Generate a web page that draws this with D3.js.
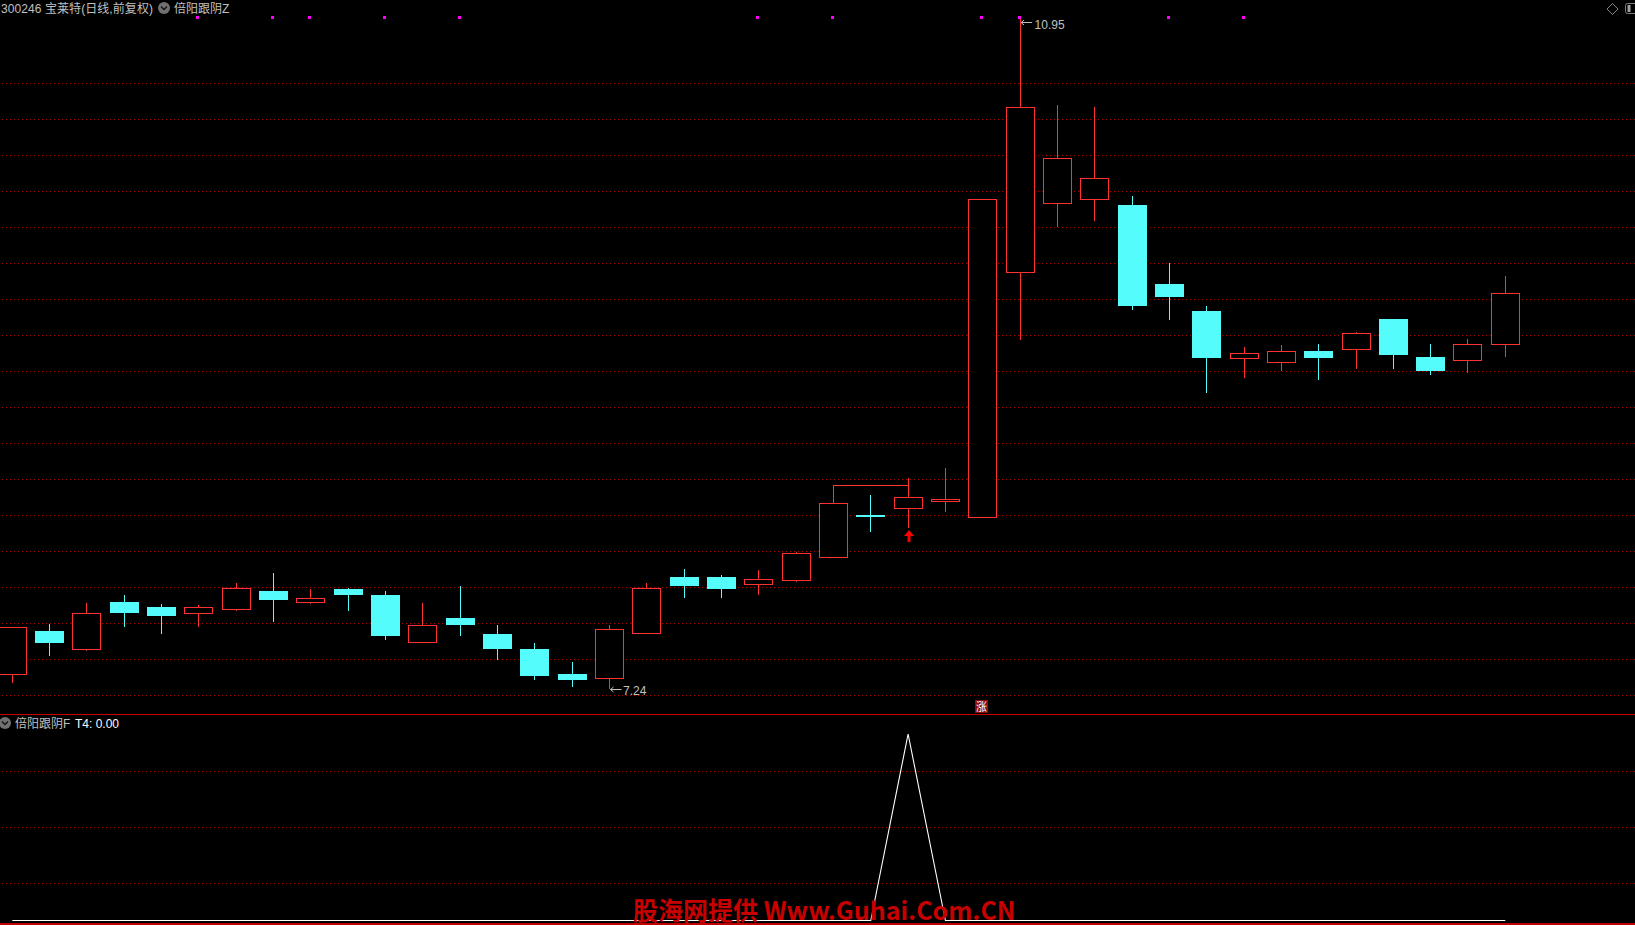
<!DOCTYPE html>
<html><head><meta charset="utf-8">
<script src="https://cdn.jsdelivr.net/npm/d3@7/dist/d3.min.js"></script>
<style>html,body{margin:0;padding:0;background:#000;overflow:hidden}svg{display:block}
text{font-family:"Liberation Sans","Noto Sans CJK SC",sans-serif}
text.wm{font-family:"Noto Sans CJK SC","Noto Sans",sans-serif}</style></head><body>
<svg id="c" width="1635" height="925"></svg>
<script>
const opens=[7.319,7.561,7.457,7.721,7.693,7.656,7.678,7.782,7.717,7.793,7.760,7.496,7.633,7.544,7.461,7.323,7.297,7.548,7.859,7.859,7.817,7.839,7.966,8.202,8.237,8.276,8.187,9.544,9.923,9.945,9.916,9.479,9.330,9.066,9.044,9.109,9.116,9.286,9.076,9.055,9.144];
const closes=[7.581,7.494,7.659,7.660,7.644,7.692,7.797,7.732,7.741,7.760,7.533,7.592,7.594,7.461,7.312,7.290,7.570,7.797,7.809,7.793,7.847,7.990,8.267,8.191,8.300,8.287,9.948,10.456,10.174,10.064,9.358,9.407,9.070,9.096,9.107,9.070,9.207,9.087,8.998,9.146,9.428];
const highs=[7.581,7.599,7.716,7.760,7.710,7.704,7.826,7.881,7.795,7.798,7.782,7.716,7.809,7.594,7.494,7.389,7.594,7.826,7.903,7.870,7.898,7.997,8.366,8.313,8.407,8.462,9.948,10.95,10.469,10.458,9.966,9.595,9.358,9.131,9.142,9.148,9.214,9.286,9.148,9.175,9.524];
const lows=[7.273,7.422,7.450,7.583,7.544,7.583,7.671,7.610,7.710,7.671,7.511,7.496,7.533,7.400,7.290,7.251,7.24,7.548,7.743,7.743,7.760,7.832,7.966,8.108,8.130,8.219,8.187,9.170,9.794,9.828,9.336,9.280,8.877,8.960,8.998,8.949,9.009,9.009,8.976,8.987,9.076];
const t4=[0,0,0,0,0,0,0,0,0,0,0,0,0,0,0,0,0,0,0,0,0,0,0,0,1,0,0,0,0,0,0,0,0,0,0,0,0,0,0,0,0];
const signalBars=[5,7,8,10,12,20,22,26,27,31,33];
const arrowBar=24, zhangBar=26;
const connector={from:22,to:24};
const gridPrices=d3.range(18).map(i=>7.2013+i*0.19936);
const subGrid=[0.2,0.5,0.8];
const titleCode="300246 宝莱特(日线,前复权)", titleMain="倍阳跟阴Z", titleSub="倍阳跟阴F", t4Label="T4: 0.00";
const watermark="股海网提供 Www.Guhai.Com.CN";
const hi={bar:27,label:"10.95",v:10.95}, lo={bar:16,label:"7.24",v:7.24};

const RED="#ff3232",CYAN="#54fcfc",GRID="#b00000",GREY="#c0c0c0";
const svg=d3.select("#c");
svg.append("rect").attr("width",1635).attr("height",925).attr("fill","#000");
const x=d3.scaleLinear().domain([0,40]).range([12.3,1505.3]);
const y=d3.scaleLinear().domain([7.24,10.95]).range([689,18]);
const ys=d3.scaleLinear().domain([0,1]).range([920.5,734]);
const px=v=>Math.floor(v)+.5;
const crisp=svg.append("g").attr("shape-rendering","crispEdges");

// grid
crisp.selectAll(".g").data(gridPrices).join("line").attr("x1",2).attr("x2",1635)
 .attr("y1",d=>px(y(d))).attr("y2",d=>px(y(d))).attr("stroke",GRID).attr("stroke-dasharray","1 3");
crisp.selectAll(".gs").data(subGrid).join("line").attr("x1",2).attr("x2",1635)
 .attr("y1",d=>px(ys(d))).attr("y2",d=>px(ys(d))).attr("stroke",GRID).attr("stroke-dasharray","1 3");
// separators
crisp.append("line").attr("x1",0).attr("x2",1635).attr("y1",714.5).attr("y2",714.5).attr("stroke","#c80000");
crisp.append("rect").attr("x",0).attr("y",923).attr("width",1635).attr("height",2).attr("fill","#c00000");

// candles
const bars=d3.range(opens.length).map(i=>({i,o:opens[i],c:closes[i],h:highs[i],l:lows[i],up:closes[i]>=opens[i]}));
const gc=crisp.selectAll(".c").data(bars).join("g");
gc.each(function(d){
  const g=d3.select(this), X=px(x(d.i)), top=y(Math.max(d.o,d.c)), bot=y(Math.min(d.o,d.c));
  const col=d.up?RED:CYAN;
  if(d.up){
    g.append("line").attr("x1",X).attr("x2",X).attr("y1",y(d.h)).attr("y2",top).attr("stroke",col);
    g.append("line").attr("x1",X).attr("x2",X).attr("y1",bot).attr("y2",y(d.l)).attr("stroke",col);
    g.append("rect").attr("x",X-14).attr("y",px(top)).attr("width",28).attr("height",Math.max(1,px(bot)-px(top)))
      .attr("fill","#000").attr("stroke",col);
  }else{
    g.append("line").attr("x1",X).attr("x2",X).attr("y1",y(d.h)).attr("y2",y(d.l)).attr("stroke",col);
    g.append("rect").attr("x",X-14.5).attr("y",Math.round(top)).attr("width",29).attr("height",Math.max(1,Math.round(bot-top)))
      .attr("fill",col);
  }
});
// connector between highs
{const X1=px(x(connector.from)),X2=px(x(connector.to)),Y=px(y(highs[connector.from]));
 crisp.append("path").attr("d",`M${X1},${px(y(closes[connector.from]))}V${Y}H${X2}`).attr("fill","none").attr("stroke",RED);}
// signal markers
crisp.selectAll(".m").data(signalBars).join("rect").attr("x",d=>Math.floor(x(d))-2).attr("y",16)
 .attr("width",3).attr("height",3).attr("fill","#ff00ff");
// up arrow
{const X=Math.floor(x(arrowBar))+1, T=530;
 svg.append("path").attr("d",`M${X},${T}L${X+5},${T+6}H${X+1.5}V${T+12}H${X-1.5}V${T+6}H${X-5}Z`).attr("fill","#ff0000");}
// zhang icon
{const X=Math.round(x(zhangBar))-8;
 crisp.append("rect").attr("x",X).attr("y",700).attr("width",13).attr("height",13).attr("fill","#8c0c0c");
 svg.append("text").attr("x",X+6.5).attr("y",710.5).attr("text-anchor","middle").attr("font-size",11).attr("fill","#fff").text("涨");}
// price notes
function note(b,yy,tx,by){
  const X=x(b.bar);
  svg.append("path").attr("d",`M${X+12},${yy}H${X+1}M${X+4},${yy-2.5}L${X+1},${yy}L${X+4},${yy+2.5}`).attr("stroke",GREY).attr("fill","none");
  svg.append("text").attr("x",X+tx).attr("y",by).attr("font-size",12).attr("fill",GREY).text(b.label);
}
note(hi,22.5,14.5,29);
note(lo,689.5,13.5,695);
// T4 line
const line=d3.line().x((d,i)=>x(i)).y(d=>ys(d));
svg.append("path").attr("d",line(t4)).attr("fill","none").attr("stroke","#fff").attr("stroke-width",1.1);
// header
const chev=(cx,cy)=>{svg.append("circle").attr("cx",cx).attr("cy",cy).attr("r",6).attr("fill","#707070");
 svg.append("path").attr("d",`M${cx-3},${cy-1.5}L${cx},${cy+1.5}L${cx+3},${cy-1.5}`).attr("stroke","#111").attr("stroke-width",1.3).attr("fill","none");};
svg.append("text").attr("x",1).attr("y",12.5).attr("font-size",12).attr("fill",GREY).attr("textLength",152).text(titleCode);
chev(164,8);
svg.append("text").attr("x",174).attr("y",12.5).attr("font-size",12).attr("fill",GREY).text(titleMain);
chev(5,723);
svg.append("text").attr("x",15).attr("y",727.5).attr("font-size",12).attr("fill",GREY).text(titleSub);
svg.append("text").attr("x",75).attr("y",727.5).attr("font-size",12).attr("fill","#fff").text(t4Label);
// top right icons
svg.append("path").attr("d","M1612.5,3.5L1618,9L1612.5,14.5L1607,9Z").attr("fill","none").attr("stroke","#808080");
svg.append("rect").attr("x",1625.5).attr("y",3.5).attr("width",14).attr("height",10).attr("rx",2).attr("fill","none").attr("stroke","#808080");
svg.append("rect").attr("x",1627.5).attr("y",5).attr("width",3).attr("height",7).attr("fill","#a0a0a0");
// watermark
svg.append("text").attr("class","wm").attr("x",633).attr("y",919.5).attr("font-size",25).attr("font-weight",700).attr("fill","#c80000").text(watermark);
</script></body></html>
